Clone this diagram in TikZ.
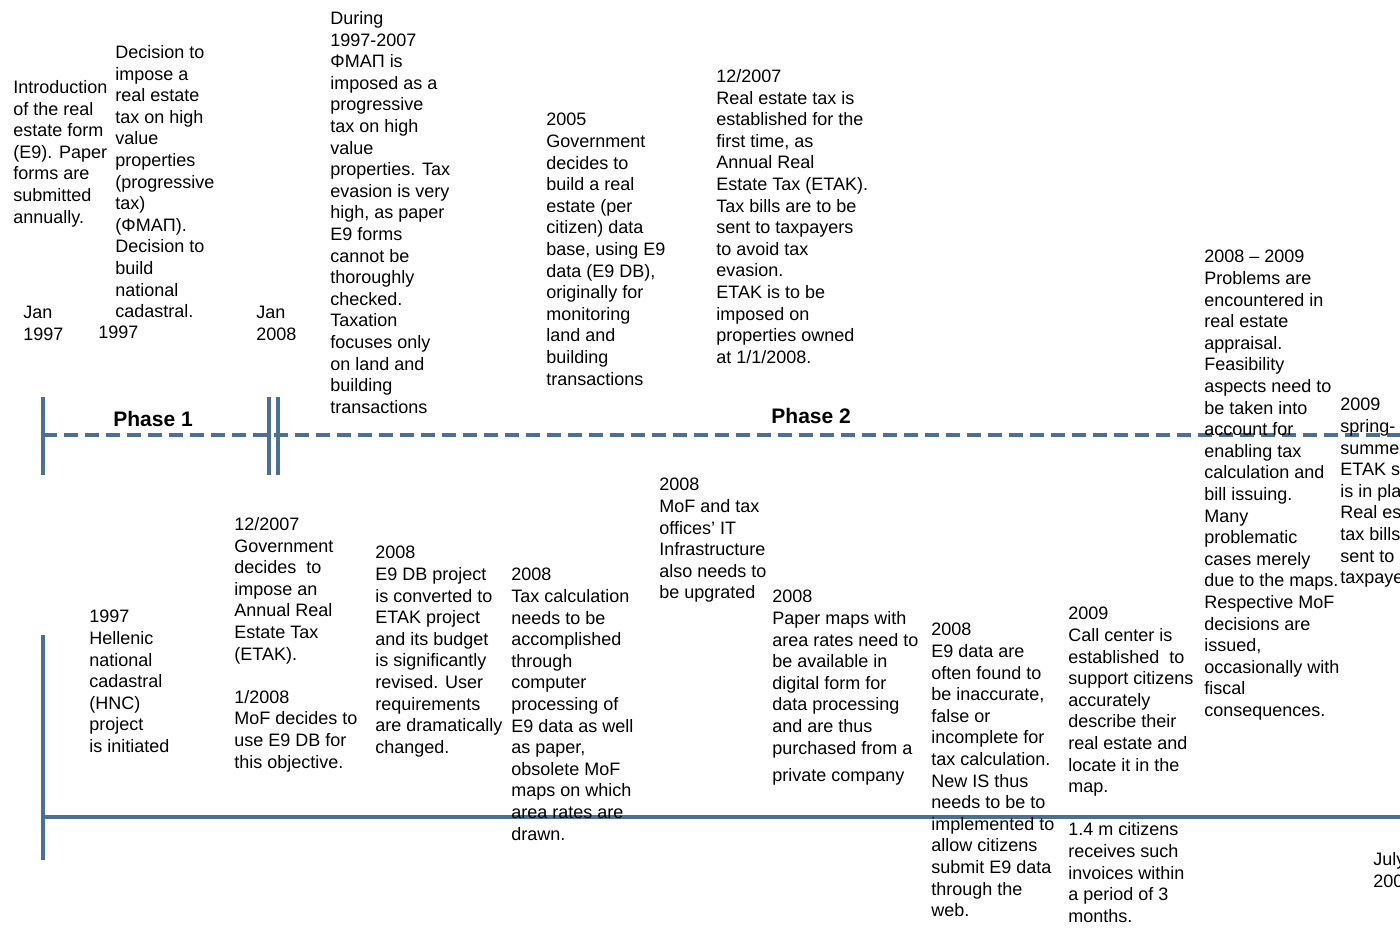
\documentclass[tikz,border=0pt]{standalone}
\usepackage{fontspec}
\setmainfont{Liberation Sans}
\usepackage{xcolor}
\usepackage{tikz}
\definecolor{lineblue}{RGB}{76,112,148}
\tikzset{
  evt/.style={anchor=north west, align=left, inner sep=0pt, font=\fontsize{9}{10.8}\selectfont},
  phase/.style={anchor=base west, inner sep=0pt, font=\fontsize{10.5}{12}\selectfont\bfseries},
  axis/.style={lineblue, line width=2pt}
}

\begin{document}
\begin{tikzpicture}[x=0.5pt,y=-0.5pt]
    \useasboundingbox (0,0) rectangle (1400,927);
    \clip (0,0) rectangle (1400,927);
    \def\yD{435}\def\yS{817}
    % Phase line (dashed)
    \coordinate (dashL) at (43,\yD);
    \coordinate (dashR) at (1400,\yD);
    \draw[axis, dash pattern=on 7pt off 3.5pt] (dashL) -- (dashR);
    \draw[axis] (43,397) -- (43,475);
    \draw[axis] (269,397) -- (269,475);
    \draw[axis] (278,397) -- (278,475);
    \node[phase] (ph1) at (113,426) {Phase 1};
    \node[phase] (ph2) at (771,423) {Phase 2};
    % Event line (solid)
    \coordinate (lineL) at (43,\yS);
    \coordinate (lineR) at (1400,\yS);
    \draw[axis] (lineL) -- (lineR);
    \draw[axis] (43,635) -- (43,860);
    % Dates
    \node[evt] (jan97) at (23,306) {Jan\\1997};
    \node[evt] (y97) at (98,326) {1997};
    \node[evt] (jan08) at (256,306) {Jan\\2008};
    \node[evt] (jul09) at (1373,852) {July\\2009};
    % Upper events
    \node[evt] (intro) at (13,80) {Introduction\\of the real\\estate form\\(E9). Paper\\forms are\\submitted\\annually.};
    \node[evt] (decide) at (115,45) {Decision to\\impose a\\real estate\\tax on high\\value\\properties\\(progressive\\tax)\\(ΦΜΑΠ).\\Decision to\\build\\national\\cadastral.};
    \node[evt] (during) at (330,11) {During\\1997-2007\\ΦΜΑΠ is\\imposed as a\\progressive\\tax on high\\value\\properties. Tax\\evasion is very\\high, as paper\\E9 forms\\cannot be\\thoroughly\\checked.\\Taxation\\focuses only\\on land and\\building\\transactions};
    \node[evt] (gov05) at (546,113) {2005\\Government\\decides to\\build a real\\estate (per\\citizen) data\\base, using E9\\data (E9 DB),\\originally for\\monitoring\\land and\\building\\transactions};
    \node[evt] (etak07) at (716,69) {12/2007\\Real estate tax is\\established for the\\first time, as\\Annual Real\\Estate Tax (ETAK).\\Tax bills are to be\\sent to taxpayers\\to avoid tax\\evasion.\\ETAK is to be\\imposed on\\properties owned\\at 1/1/2008.};
    \node[evt] (probl) at (1204,250) {2008 – 2009\\Problems are\\encountered in\\real estate\\appraisal.\\Feasibility\\aspects need to\\be taken into\\account for\\enabling tax\\calculation and\\bill issuing.\\Many\\problematic\\cases merely\\due to the maps.\\Respective MoF\\decisions are\\issued,\\occasionally with\\fiscal\\consequences.};
    \node[evt] (spring) at (1340,398) {2009\\spring-\\summer\\ETAK system\\is in place.\\Real estate\\tax bills\\sent to\\taxpayers};
    % Lower events
    \node[evt] (hnc) at (89,610) {1997\\Hellenic\\national\\cadastral\\(HNC)\\project\\is initiated};
    \node[evt] (gov07) at (234,517) {12/2007\\Government\\decides\ \ to\\impose an\\Annual Real\\Estate Tax\\(ETAK).\\[10.8pt]1/2008\\MoF decides to\\use E9 DB for\\this objective.};
    \node[evt] (e9db) at (375,546) {2008\\E9 DB project\\is converted to\\ETAK project\\and its budget\\is significantly\\revised. User\\requirements\\are dramatically\\changed.};
    \node[evt] (taxcalc) at (511,568) {2008\\Tax calculation\\needs to be\\accomplished\\through\\computer\\processing of\\E9 data as well\\as paper,\\obsolete MoF\\maps on which\\area rates are\\drawn.};
    \node[evt] (itinfra) at (659,478) {2008\\MoF and tax\\offices' IT\\Infrastructure\\also needs to\\be upgrated};
    \node[evt] (maps) at (772,590) {2008\\Paper maps with\\area rates need to\\be available in\\digital form for\\data processing\\and are thus\\purchased from a\\[3pt]private company};
    \node[evt] (e9data) at (931,623) {2008\\E9 data are\\often found to\\be inaccurate,\\false or\\incomplete for\\tax calculation.\\New IS thus\\needs to be to\\implemented to\\allow citizens\\submit E9 data\\through the\\web.};
    \node[evt] (callc) at (1068,607) {2009\\Call center is\\established\ \ to\\support citizens\\accurately\\describe their\\real estate and\\locate it in the\\map.\\[10.8pt]1.4 m citizens\\receives such\\invoices within\\a period of 3\\months.};
\end{tikzpicture}
\end{document}
